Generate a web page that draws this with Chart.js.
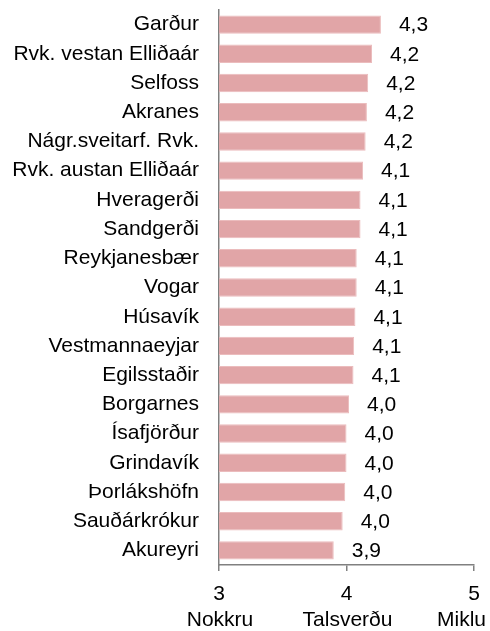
<!DOCTYPE html>
<html>
<head>
<meta charset="utf-8">
<script src="https://cdn.jsdelivr.net/npm/chart.js@4"></script>
<style>
  html, body { margin: 0; padding: 0; background: #fff; }
  #wrap { width: 490px; height: 631px; }
</style>
</head>
<body>
<div id="wrap"><canvas id="myChart"></canvas></div>
<script>
const places = ['Garður', 'Rvk. vestan Elliðaár', 'Selfoss', 'Akranes', 'Nágr.sveitarf. Rvk.',
  'Rvk. austan Elliðaár', 'Hveragerði', 'Sandgerði', 'Reykjanesbær', 'Vogar', 'Húsavík',
  'Vestmannaeyjar', 'Egilsstaðir', 'Borgarnes', 'Ísafjörður', 'Grindavík', 'Þorlákshöfn',
  'Sauðárkrókur', 'Akureyri'];
const scores = [4.27, 4.20, 4.17, 4.16, 4.15, 4.13, 4.11, 4.11, 4.08, 4.08, 4.07,
  4.06, 4.055, 4.02, 4.00, 4.00, 3.99, 3.97, 3.90];
const xTicks = [3, 4, 5];
const xWords = ['Nokkru', 'Talsverðu', 'Miklu'];

const FONT = 'Arial, "Liberation Sans", sans-serif';
const SIZE = 21;

// value labels after each bar, with comma as decimal sign
const barLabels = {
  id: 'barLabels',
  afterDatasetsDraw(chart) {
    const ctx = chart.ctx;
    const meta = chart.getDatasetMeta(0);
    ctx.save();
    ctx.font = SIZE + 'px ' + FONT;
    ctx.fillStyle = '#000';
    ctx.textAlign = 'left';
    ctx.textBaseline = 'middle';
    meta.data.forEach((bar, i) => {
      const txt = scores[i].toFixed(1).replace('.', ',');
      ctx.fillText(txt, bar.x + 18, bar.y + 1);
    });
    ctx.restore();
  }
};

// second line of x labels (words under the numbers)
const wordLabels = {
  id: 'wordLabels',
  afterDraw(chart) {
    const ctx = chart.ctx;
    const x = chart.scales.x;
    ctx.save();
    ctx.font = SIZE + 'px ' + FONT;
    ctx.fillStyle = '#000';
    ctx.textAlign = 'center';
    ctx.textBaseline = 'alphabetic';
    xTicks.forEach((t, i) => {
      let px = x.getPixelForValue(t) + 1;
      const w = ctx.measureText(xWords[i]).width;
      if (px + w / 2 > chart.width - 4) px = chart.width - 4 - w / 2;
      ctx.fillText(xWords[i], px, 626);
    });
    ctx.restore();
  }
};

const ctx = document.getElementById('myChart').getContext('2d');
const myChart = new Chart(ctx, {
  type: 'bar',
  data: {
    labels: places,
    datasets: [{
      data: scores,
      backgroundColor: '#e1a5a7',
      borderColor: '#ebbcbd',
      borderWidth: 1,
      barPercentage: 0.63,
      categoryPercentage: 1
    }]
  },
  options: {
    indexAxis: 'y',
    responsive: true,
    maintainAspectRatio: false,
    animation: false,
    layout: { padding: { top: 10, left: 0, right: 0, bottom: 0 } },
    plugins: {
      legend: { display: false },
      tooltip: { enabled: false }
    },
    scales: {
      x: {
        min: 3,
        max: 5,
        afterFit(scale) {
          scale.height = 66;
          scale.paddingLeft = 0;
          scale.paddingRight = 16;
        },
        afterBuildTicks(scale) {
          scale.ticks = xTicks.map(v => ({ value: v }));
        },
        grid: {
          drawOnChartArea: false,
          drawTicks: true,
          tickLength: 6,
          color: '#808080',
          lineWidth: 1.5
        },
        border: { color: '#808080', width: 1.5 },
        ticks: {
          color: '#000',
          font: { family: FONT, size: SIZE },
          padding: 11,
          maxRotation: 0,
          callback: v => String(v)
        }
      },
      y: {
        afterFit(scale) {
          scale.width = 219;
          scale.paddingTop = 0;
          scale.paddingBottom = 0;
        },
        grid: { display: false },
        border: { color: '#808080', width: 1.5 },
        ticks: {
          color: '#000',
          font: { family: FONT, size: SIZE },
          padding: 12,
          autoSkip: false
        }
      }
    }
  },
  plugins: [barLabels, wordLabels]
});
</script>
</body>
</html>
